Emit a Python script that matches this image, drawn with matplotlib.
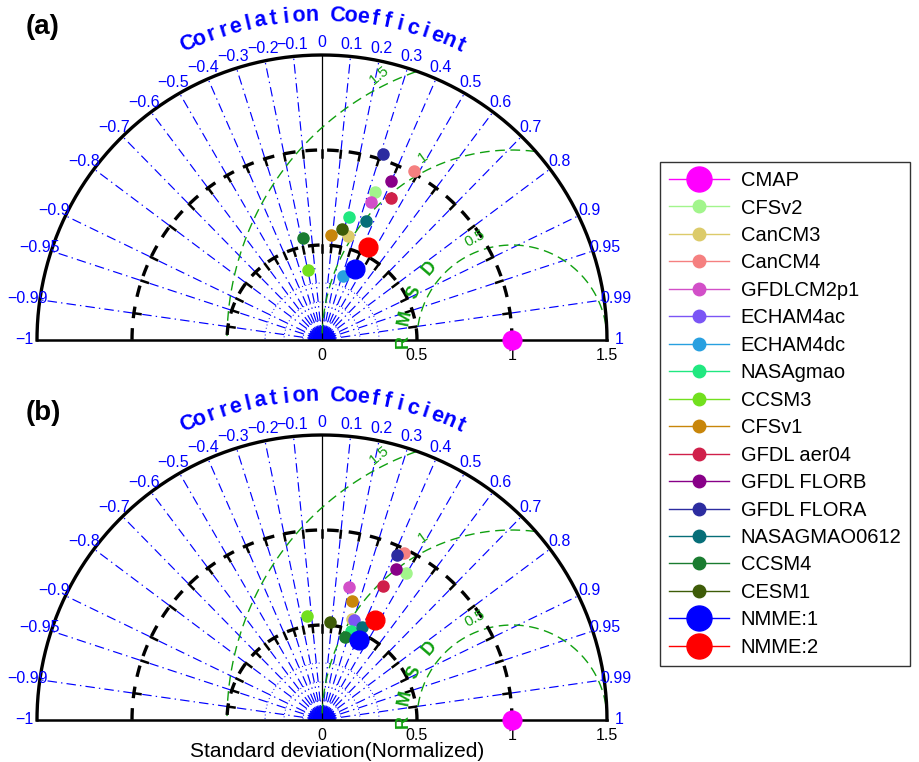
import numpy as np
import matplotlib
matplotlib.use('Agg')
import matplotlib.pyplot as plt
from matplotlib.lines import Line2D

plt.rcParams['font.family'] = ['Liberation Sans', 'DejaVu Sans']

# ---------------- data ----------------
models = ['CMAP', 'CFSv2', 'CanCM3', 'CanCM4', 'GFDLCM2p1', 'ECHAM4ac', 'ECHAM4dc',
          'NASAgmao', 'CCSM3', 'CFSv1', 'GFDL aer04', 'GFDL FLORB', 'GFDL FLORA',
          'NASAGMAO0612', 'CCSM4', 'CESM1', 'NMME:1', 'NMME:2']
colors = ['#ff00ff', '#a2f58c', '#dccb6a', '#f58080', '#d24fc8', '#7b55f5', '#28a0e0',
          '#20e880', '#72e01e', '#c8860a', '#d0204a', '#880088', '#2c2ca0',
          '#066e78', '#1a7c30', '#3e5c08', '#0000ff', '#ff0000']
big = ['CMAP', 'NMME:1', 'NMME:2']

# panel (a): normalized standard deviation and correlation
std_a = [1.0, 0.826, 0.562, 1.014, 0.770, 0.405, 0.355,
         0.661, 0.375, 0.556, 0.831, 0.912, 1.030,
         0.669, 0.549, 0.592, 0.411, 0.548]
corr_a = [1.0, 0.340, 0.240, 0.477, 0.335, 0.420, 0.315,
          0.215, -0.192, 0.088, 0.434, 0.398, 0.310,
          0.347, -0.186, 0.181, 0.426, 0.445]
# panel (b)
std_b = [1.0, 0.892, 0.554, 0.978, 0.712, 0.552, 0.470,
         0.494, 0.553, 0.648, 0.775, 0.886, 0.953,
         0.531, 0.455, 0.516, 0.463, 0.596]
corr_b = [1.0, 0.495, 0.289, 0.443, 0.199, 0.304, 0.404,
          0.306, -0.143, 0.244, 0.414, 0.439, 0.412,
          0.394, 0.266, 0.081, 0.417, 0.471]

corr_ticks = [-1, -0.99, -0.95, -0.9, -0.8, -0.7, -0.6, -0.5, -0.4, -0.3, -0.2, -0.1, 0,
              0.1, 0.2, 0.3, 0.4, 0.5, 0.6, 0.7, 0.8, 0.9, 0.95, 0.99, 1]
corr_labels = ['\u22121', '\u22120.99', '\u22120.95', '\u22120.9', '\u22120.8', '\u22120.7',
               '\u22120.6', '\u22120.5', '\u22120.4', '\u22120.3', '\u22120.2', '\u22120.1', '0',
               '0.1', '0.2', '0.3', '0.4', '0.5', '0.6', '0.7', '0.8', '0.9', '0.95', '0.99', '1']
std_ticks = [0, 0.5, 1, 1.5]
std_labels = ['0', '0.5', '1', '1.5']
ref_arcs = [0.5, 1.0]
rms_levels = [0.5, 1.0, 1.5]
rms_labels = ['0.5', '1', '1.5']

# ---------------- figure ----------------
W, H = 920, 762
S = 190.0
fig = plt.figure(figsize=(W / 100, H / 100), dpi=100)

BLUE = '#0000ff'
GREEN = '#10a010'


def make_ax(ox, oy, xl, yl):
    left = (ox + xl[0] * S) / W
    width = (xl[1] - xl[0]) * S / W
    bottom = 1 - (oy - yl[0] * S) / H
    height = (yl[1] - yl[0]) * S / H
    ax = fig.add_axes([left, bottom, width, height])
    ax.set_xlim(xl)
    ax.set_ylim(yl)
    ax.axis('off')
    return ax


def taylor(ax, std, corr, xlabel=False):
    rmax = 1.5
    th = np.linspace(0, np.pi, 400)
    # dotted small arcs near origin
    for r in [0.1, 0.2, 0.3]:
        ax.plot(r * np.cos(th), r * np.sin(th), color=BLUE, lw=0.7, ls=(0, (1, 2.5)), zorder=1)
    # fan near origin
    for a in np.radians(np.arange(1.5, 180, 3.0)):
        ax.plot([0.012 * np.cos(a), 0.07 * np.cos(a)], [0.012 * np.sin(a), 0.07 * np.sin(a)],
                color=BLUE, lw=0.8, zorder=1)
    # correlation radial lines
    for c in corr_ticks:
        a = np.arccos(c)
        if abs(c) == 1:
            continue
        if c == 0:
            ax.plot([0, 0], [0, rmax], color='black', lw=0.9, zorder=2)
        else:
            ax.plot([0, rmax * np.cos(a)], [0, rmax * np.sin(a)], color=BLUE, lw=0.85,
                    ls=(0, (8, 3.5, 1.2, 3.5)), zorder=1)
    # correlation labels
    for c, lab in zip(corr_ticks, corr_labels):
        a = np.arccos(c)
        r = 1.565
        ax.text(r * np.cos(a), r * np.sin(a), lab, color=BLUE, fontsize=11.5,
                ha='center', va='center', zorder=5)
    # RMSD circles
    for r, lab in zip(rms_levels, rms_labels):
        t = np.linspace(0, np.pi, 600)
        x = 1 + r * np.cos(t)
        y = r * np.sin(t)
        m = np.hypot(x, y) > rmax + 1e-3
        x[m] = np.nan
        y[m] = np.nan
        ax.plot(x, y, color=GREEN, lw=1.0, ls=(0, (7, 4)), zorder=2)
    rms_lab_pos = [(0.57, 110, 28), (1.07, 116, 36), (1.56, 116.5, 40)]
    for lab, (d, ang, rot) in zip(rms_labels, rms_lab_pos):
        a = np.radians(ang)
        ax.text(1 + d * np.cos(a), d * np.sin(a), lab, color=GREEN, fontsize=11,
                rotation=rot, ha='center', va='center', zorder=5)
    for ch, ang in zip('RMSD', [181, 168, 154, 139]):
        a = np.radians(ang)
        d = 0.575
        ax.text(1 + d * np.cos(a), d * np.sin(a), ch, color=GREEN, fontsize=13,
                fontweight='bold', rotation=ang - 90, ha='center', va='center', zorder=5)
    # reference (std) dashed arcs with ticks
    for r in ref_arcs:
        ax.plot(r * np.cos(th), r * np.sin(th), color='black', lw=2.4, ls=(0, (3.5, 3)), zorder=3)
        for c in corr_ticks:
            if abs(c) == 1:
                continue
            a = np.arccos(c)
            ax.plot([(r - 0.035) * np.cos(a), r * np.cos(a)],
                    [(r - 0.035) * np.sin(a), r * np.sin(a)], color='black', lw=1.8, zorder=3)
    # outer arc and baseline
    ax.plot(rmax * np.cos(th), rmax * np.sin(th), color='black', lw=2.4, zorder=3)
    ax.plot([-rmax, rmax], [0, 0], color='black', lw=1.8, zorder=3)
    # std tick labels
    for v, lab in zip(std_ticks, std_labels):
        ax.text(v, -0.08, lab, fontsize=11.5, ha='center', va='center', color='black')
    # curved title
    title = 'Correlation Coefficient'
    angs = np.linspace(114.4, 64.8, len(title))
    for ch, ang in zip(title, angs):
        a = np.radians(ang)
        ax.text(1.71 * np.cos(a), 1.71 * np.sin(a), ch, color=BLUE, fontsize=15.5,
                fontweight='bold', rotation=ang - 90, ha='center', va='center')
    # data points
    for name, col, s, c in zip(models, colors, std, corr):
        a = np.arccos(c)
        ms = 13.5 if name in big else 8
        ax.plot(s * np.cos(a), s * np.sin(a), 'o', color=col, ms=ms, mec=col,
                zorder=7 if name in big else 6, clip_on=False)
    if xlabel:
        ax.text(0.08, -0.165, 'Standard deviation(Normalized)', fontsize=15,
                ha='center', va='center')


ax_a = make_ax(322, 340, (-1.69, 1.69), (-0.15, 1.78))
taylor(ax_a, std_a, corr_a)
ax_b = make_ax(322, 720, (-1.69, 1.69), (-0.21, 1.78))
taylor(ax_b, std_b, corr_b, xlabel=True)

fig.text(43 / W, 1 - 27 / H, '(a)', fontsize=20, fontweight='bold', ha='center', va='center')
fig.text(43 / W, 1 - 413 / H, '(b)', fontsize=20, fontweight='bold', ha='center', va='center')

handles = []
for name, col in zip(models, colors):
    ms = 18 if name in big else 9
    handles.append(Line2D([0], [0], color=col, lw=1.0, marker='o', ms=ms, mec=col, mfc=col))
leg = fig.legend(handles, models, loc='upper left', bbox_to_anchor=(660 / W, 1 - 162 / H),
                 fontsize=14.5, frameon=True, fancybox=False, edgecolor='black',
                 handlelength=3.0, handletextpad=0.55, labelspacing=0.42, borderpad=0.45,
                 borderaxespad=0)
leg.get_frame().set_linewidth(1.0)

fig.savefig('out.png', dpi=100)
